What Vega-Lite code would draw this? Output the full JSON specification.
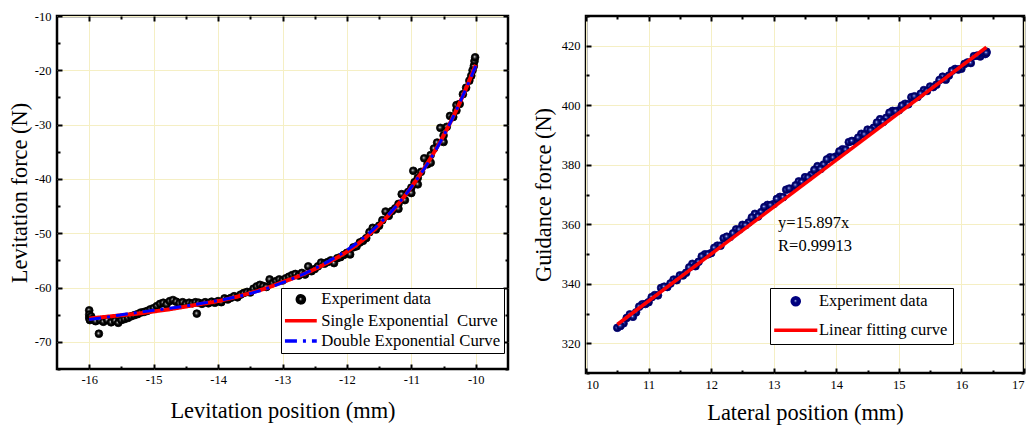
{
  "$schema": "https://vega.github.io/schema/vega-lite/v6.json",
  "background": "white",
  "padding": {"left": 7, "top": 8, "right": 4, "bottom": 4},
  "config": {
    "font": "Liberation Serif",
    "view": {"stroke": "black", "strokeWidth": 2.5},
    "axis": {"labelFont": "Liberation Serif", "titleFont": "Liberation Serif", "labelColor": "black", "titleColor": "black", "titleFontWeight": "normal", "domain": false, "tickColor": "black", "tickWidth": 2}
  },
  "spacing": 78,
  "bounds": "flush",
  "resolve": {"scale": {"stroke": "independent", "shape": "independent", "strokeDash": "independent"}, "legend": {"stroke": "independent", "shape": "independent", "strokeDash": "independent"}},
  "datasets": {
    "lev_exp": [
      {"x":-16.0,"y":-64.2},{"x":-16.0,"y":-65.0},{"x":-16.0,"y":-65.6},{"x":-15.99,"y":-66.0},{"x":-15.97,"y":-65.3},{"x":-15.95,"y":-65.8},{"x":-15.9,"y":-66.2},{"x":-15.85,"y":-68.5},{"x":-15.83,"y":-66.0},{"x":-15.78,"y":-66.3},{"x":-15.72,"y":-66.0},{"x":-15.66,"y":-66.4},{"x":-15.6,"y":-66.1},{"x":-15.55,"y":-66.5},{"x":-15.5,"y":-66.0},{"x":-15.45,"y":-65.8},{"x":-15.4,"y":-65.6},{"x":-15.35,"y":-65.3},{"x":-15.3,"y":-65.1},{"x":-15.25,"y":-64.9},{"x":-15.2,"y":-64.6},{"x":-15.15,"y":-64.5},{"x":-15.1,"y":-64.3},{"x":-15.05,"y":-64.0},{"x":-15.0,"y":-63.8},{"x":-14.95,"y":-63.4},{"x":-14.9,"y":-63.0},{"x":-14.85,"y":-62.8},{"x":-14.8,"y":-63.1},{"x":-14.75,"y":-62.5},{"x":-14.7,"y":-62.3},{"x":-14.65,"y":-62.6},{"x":-14.6,"y":-62.9},{"x":-14.55,"y":-62.7},{"x":-14.5,"y":-63.0},{"x":-14.45,"y":-62.8},{"x":-14.4,"y":-62.9},{"x":-14.35,"y":-62.7},{"x":-14.33,"y":-64.8},{"x":-14.3,"y":-62.8},{"x":-14.25,"y":-63.0},{"x":-14.2,"y":-62.7},{"x":-14.15,"y":-62.9},{"x":-14.1,"y":-62.6},{"x":-14.05,"y":-62.8},{"x":-14.0,"y":-62.5},{"x":-13.95,"y":-62.7},{"x":-13.9,"y":-62.0},{"x":-13.85,"y":-62.2},{"x":-13.8,"y":-61.9},{"x":-13.75,"y":-61.6},{"x":-13.7,"y":-61.8},{"x":-13.65,"y":-61.3},{"x":-13.6,"y":-61.0},{"x":-13.55,"y":-60.8},{"x":-13.5,"y":-60.9},{"x":-13.45,"y":-60.2},{"x":-13.4,"y":-59.8},{"x":-13.35,"y":-59.5},{"x":-13.3,"y":-59.7},{"x":-13.25,"y":-59.9},{"x":-13.2,"y":-58.5},{"x":-13.15,"y":-59.2},{"x":-13.1,"y":-58.8},{"x":-13.05,"y":-58.5},{"x":-13.0,"y":-58.7},{"x":-12.95,"y":-58.3},{"x":-12.9,"y":-58.0},{"x":-12.85,"y":-57.7},{"x":-12.8,"y":-57.5},{"x":-12.75,"y":-57.8},{"x":-12.7,"y":-57.3},{"x":-12.65,"y":-57.6},{"x":-12.6,"y":-56.1},{"x":-12.55,"y":-57.0},{"x":-12.5,"y":-56.6},{"x":-12.45,"y":-56.1},{"x":-12.4,"y":-55.4},{"x":-12.35,"y":-55.6},{"x":-12.3,"y":-55.3},{"x":-12.25,"y":-55.0},{"x":-12.2,"y":-55.5},{"x":-12.15,"y":-54.6},{"x":-12.1,"y":-54.4},{"x":-12.05,"y":-54.0},{"x":-12.0,"y":-53.6},{"x":-11.95,"y":-53.9},{"x":-11.9,"y":-52.6},{"x":-11.85,"y":-52.4},{"x":-11.8,"y":-51.7},{"x":-11.75,"y":-51.4},{"x":-11.7,"y":-50.9},{"x":-11.65,"y":-49.8},{"x":-11.6,"y":-49.0},{"x":-11.55,"y":-49.3},{"x":-11.5,"y":-48.6},{"x":-11.45,"y":-47.6},{"x":-11.4,"y":-46.0},{"x":-11.35,"y":-46.8},{"x":-11.3,"y":-45.9},{"x":-11.25,"y":-45.4},{"x":-11.2,"y":-44.6},{"x":-11.2,"y":-45.5},{"x":-11.15,"y":-42.8},{"x":-11.1,"y":-43.9},{"x":-11.05,"y":-42.4},{"x":-11.0,"y":-41.6},{"x":-11.0,"y":-42.6},{"x":-10.97,"y":-38.5},{"x":-10.95,"y":-40.6},{"x":-10.9,"y":-39.8},{"x":-10.9,"y":-41.0},{"x":-10.85,"y":-38.7},{"x":-10.8,"y":-36.2},{"x":-10.75,"y":-37.3},{"x":-10.7,"y":-35.6},{"x":-10.7,"y":-37.0},{"x":-10.65,"y":-34.4},{"x":-10.6,"y":-33.3},{"x":-10.55,"y":-30.6},{"x":-10.5,"y":-32.0},{"x":-10.5,"y":-33.2},{"x":-10.45,"y":-30.4},{"x":-10.4,"y":-28.4},{"x":-10.35,"y":-28.6},{"x":-10.3,"y":-26.4},{"x":-10.3,"y":-27.4},{"x":-10.25,"y":-26.2},{"x":-10.2,"y":-24.4},{"x":-10.15,"y":-23.2},{"x":-10.1,"y":-21.9},{"x":-10.07,"y":-21.0},{"x":-10.05,"y":-20.0},{"x":-10.03,"y":-19.2},{"x":-10.02,"y":-18.3},{"x":-10.01,"y":-17.6}
    ],
    "lev_single": [
      {"x":-16,"y":-65.7},{"x":-15.75,"y":-65.4},{"x":-15.5,"y":-65.1},{"x":-15.25,"y":-64.8},{"x":-15,"y":-64.4},{"x":-14.75,"y":-64.0},{"x":-14.5,"y":-63.5},{"x":-14.25,"y":-63.0},{"x":-14,"y":-62.5},{"x":-13.75,"y":-61.8},{"x":-13.5,"y":-61.0},{"x":-13.25,"y":-60.1},{"x":-13,"y":-59.0},{"x":-12.75,"y":-57.9},{"x":-12.5,"y":-56.6},{"x":-12.25,"y":-55.1},{"x":-12,"y":-53.4},{"x":-11.75,"y":-51.2},{"x":-11.5,"y":-48.5},{"x":-11.25,"y":-45.3},{"x":-11,"y":-41.5},{"x":-10.75,"y":-37.1},{"x":-10.5,"y":-32.0},{"x":-10.25,"y":-26.0},{"x":-10,"y":-19.0}
    ],
    "lev_double": [
      {"x":-16,"y":-65.9},{"x":-15.75,"y":-65.5},{"x":-15.5,"y":-65.0},{"x":-15.25,"y":-64.6},{"x":-15,"y":-64.2},{"x":-14.75,"y":-63.8},{"x":-14.5,"y":-63.4},{"x":-14.25,"y":-62.9},{"x":-14,"y":-62.4},{"x":-13.75,"y":-61.8},{"x":-13.5,"y":-61.1},{"x":-13.25,"y":-60.2},{"x":-13,"y":-59.1},{"x":-12.75,"y":-57.9},{"x":-12.5,"y":-56.5},{"x":-12.25,"y":-54.9},{"x":-12,"y":-53.1},{"x":-11.75,"y":-50.9},{"x":-11.5,"y":-48.3},{"x":-11.25,"y":-45.2},{"x":-11,"y":-41.5},{"x":-10.75,"y":-37.2},{"x":-10.5,"y":-32.1},{"x":-10.25,"y":-26.0},{"x":-10,"y":-19.2}
    ],
    "gui_exp": [
      {"x":10.5,"y":325.2},{"x":10.6,"y":326.7},{"x":10.7,"y":329.7},{"x":10.8,"y":330.4},{"x":10.9,"y":333.1},{"x":11.0,"y":333.8},{"x":11.1,"y":336.2},{"x":11.2,"y":338.6},{"x":11.3,"y":338.9},{"x":11.4,"y":341.4},{"x":11.5,"y":342.8},{"x":11.6,"y":343.7},{"x":11.7,"y":346.7},{"x":11.8,"y":347.4},{"x":11.9,"y":349.9},{"x":12.0,"y":350.3},{"x":12.1,"y":352.8},{"x":12.2,"y":355.3},{"x":12.3,"y":355.7},{"x":12.4,"y":358.3},{"x":12.5,"y":359.8},{"x":12.6,"y":360.6},{"x":12.7,"y":363.5},{"x":12.8,"y":364.1},{"x":12.9,"y":366.5},{"x":13.0,"y":366.8},{"x":13.1,"y":369.2},{"x":13.2,"y":371.6},{"x":13.3,"y":371.9},{"x":13.4,"y":374.4},{"x":13.5,"y":375.8},{"x":13.6,"y":376.6},{"x":13.7,"y":379.5},{"x":13.8,"y":380.1},{"x":13.9,"y":382.5},{"x":14.0,"y":382.8},{"x":14.1,"y":385.2},{"x":14.2,"y":387.6},{"x":14.3,"y":387.9},{"x":14.4,"y":390.4},{"x":14.5,"y":391.8},{"x":14.6,"y":392.5},{"x":14.7,"y":395.3},{"x":14.8,"y":395.8},{"x":14.9,"y":398.1},{"x":15.0,"y":398.3},{"x":15.1,"y":400.5},{"x":15.2,"y":402.7},{"x":15.3,"y":402.8},{"x":15.4,"y":405.1},{"x":15.5,"y":406.3},{"x":15.6,"y":406.9},{"x":15.7,"y":409.6},{"x":15.8,"y":410.0},{"x":15.9,"y":412.2},{"x":16.0,"y":412.3},{"x":16.1,"y":414.4},{"x":16.2,"y":416.5},{"x":16.3,"y":416.4},{"x":16.4,"y":418.0},
      {"x":10.55,"y":325.8},{"x":10.65,"y":328.5},{"x":10.75,"y":328.9},{"x":10.85,"y":332.3},{"x":10.95,"y":333.2},{"x":11.05,"y":335.5},{"x":11.15,"y":336.1},{"x":11.25,"y":339.0},{"x":11.35,"y":340.1},{"x":11.45,"y":341.2},{"x":11.55,"y":342.8},{"x":11.65,"y":345.5},{"x":11.75,"y":345.9},{"x":11.85,"y":349.2},{"x":11.95,"y":349.9},{"x":12.05,"y":352.1},{"x":12.15,"y":352.8},{"x":12.25,"y":355.8},{"x":12.35,"y":356.95},{"x":12.45,"y":358.2},{"x":12.55,"y":359.7},{"x":12.65,"y":362.3},{"x":12.75,"y":362.6},{"x":12.85,"y":365.8},{"x":12.95,"y":366.4},{"x":13.05,"y":368.5},{"x":13.15,"y":369.1},{"x":13.25,"y":372.0},{"x":13.35,"y":373.1},{"x":13.45,"y":374.2},{"x":13.55,"y":375.7},{"x":13.65,"y":378.3},{"x":13.75,"y":378.6},{"x":13.85,"y":381.8},{"x":13.95,"y":382.4},{"x":14.05,"y":384.5},{"x":14.15,"y":385.1},{"x":14.25,"y":388.0},{"x":14.35,"y":389.1},{"x":14.45,"y":390.2},{"x":14.55,"y":391.6},{"x":14.65,"y":394.2},{"x":14.75,"y":394.4},{"x":14.85,"y":397.5},{"x":14.95,"y":398.0},{"x":15.05,"y":399.9},{"x":15.15,"y":400.3},{"x":15.25,"y":403.0},{"x":15.35,"y":403.9},{"x":15.45,"y":404.8},{"x":15.55,"y":406.1},{"x":15.65,"y":408.5},{"x":15.75,"y":408.6},{"x":15.85,"y":411.6},{"x":15.95,"y":412.0},{"x":16.05,"y":413.9},{"x":16.15,"y":414.2},{"x":16.25,"y":416.7},{"x":16.35,"y":417.4},{"x":16.38,"y":417.2},{"x":16.4,"y":417.6}
    ],
    "gui_fit": [{"x":10.5,"y":326.3},{"x":16.4,"y":419.5}],
    "gui_text": [{"x":13.07,"y":360.3,"label":"y=15.897x"},{"x":13.07,"y":352.6,"label":"R=0.99913"}]
  },
  "hconcat": [
    {
      "width": 451,
      "height": 353,
      "resolve": {"axis": {"x": "independent", "y": "independent"}},
      "layer": [
        {
          "data": {"name": "lev_exp"},
          "mark": {"type": "point", "filled": true, "opacity": 1, "size": 60, "strokeWidth": 0.8,
            "fill": {"gradient": "radial", "x1": 0.42, "y1": 0.42, "r1": 0, "x2": 0.5, "y2": 0.5, "r2": 0.5,
              "stops": [{"offset": 0, "color": "#ffffff"}, {"offset": 0.12, "color": "#bbbbbb"}, {"offset": 0.35, "color": "#333333"}, {"offset": 0.65, "color": "#000000"}, {"offset": 1, "color": "#000000"}]}},
          "encoding": {
            "x": {"field": "x", "type": "quantitative", "scale": {"domain": [-16.5, -9.5], "nice": false, "zero": false},
              "axis": {"orient": "bottom", "values": [-16,-15.5,-15,-14.5,-14,-13.5,-13,-12.5,-12,-11.5,-11,-10.5,-10],
                "labelExpr": "datum.value % 1 === 0 ? '' + datum.value : ''", "labelFontSize": 12.5, "labelPadding": 9,
                "tickSize": {"condition": {"test": "datum.value % 1 === 0", "value": -5}, "value": -3},
                "grid": true, "gridColor": {"condition": {"test": "datum.value % 1 === 0", "value": "#f5efc4"}, "value": "transparent"}, "gridWidth": 1,
                "title": "Levitation position (mm)", "titleFontSize": 22.4, "titlePadding": 14}},
            "y": {"field": "y", "type": "quantitative", "scale": {"domain": [-75, -10], "nice": false, "zero": false},
              "axis": {"orient": "left", "values": [-75,-70,-65,-60,-55,-50,-45,-40,-35,-30,-25,-20,-15,-10],
                "labelExpr": "datum.value % 10 === 0 ? '' + datum.value : ''", "labelFontSize": 12.5, "labelPadding": 11,
                "tickSize": {"condition": {"test": "datum.value % 10 === 0", "value": -5}, "value": -3},
                "grid": true, "gridColor": {"condition": {"test": "datum.value % 10 === 0", "value": "#f5efc4"}, "value": "transparent"}, "gridWidth": 1,
                "title": "Levitation force (N)", "titleFontSize": 22.4, "titlePadding": 3}},
            "stroke": {"datum": "Experiment data", "type": "nominal",
              "scale": {"domain": ["Experiment data", "Single Exponential\u00a0 Curve", "Double Exponential Curve"], "range": ["#000000", "#ff0000", "#0000ff"]},
              "legend": {"title": null, "orient": "none", "legendX": 224, "legendY": 272, "strokeColor": "black", "fillColor": "white",
                "padding": 3, "labelFont": "Liberation Serif", "labelFontSize": 16.7, "labelColor": "black",
                "symbolSize": 50, "symbolStrokeWidth": 3.5, "symbolOffset": 8.5, "labelOffset": 12, "rowPadding": 2.3, "labelLimit": 300, "symbolOpacity": 1}},
            "shape": {"datum": "Experiment data", "type": "nominal",
              "scale": {"domain": ["Experiment data", "Single Exponential\u00a0 Curve", "Double Exponential Curve"], "range": ["circle", "M-4.5,0L4.5,0", "M-4.5,0L4.5,0"]}}
          }
        },
        {
          "data": {"name": "lev_single"},
          "mark": {"type": "line", "strokeWidth": 4, "interpolate": "monotone"},
          "encoding": {
            "x": {"field": "x", "type": "quantitative",
              "axis": {"orient": "top", "values": [-16,-15.5,-15,-14.5,-14,-13.5,-13,-12.5,-12,-11.5,-11,-10.5,-10], "labels": false, "grid": false, "title": null,
                "tickSize": {"condition": {"test": "datum.value % 1 === 0", "value": -5}, "value": -3}}},
            "y": {"field": "y", "type": "quantitative",
              "axis": {"orient": "right", "values": [-75,-70,-65,-60,-55,-50,-45,-40,-35,-30,-25,-20,-15,-10], "labels": false, "grid": false, "title": null,
                "tickSize": {"condition": {"test": "datum.value % 10 === 0", "value": -5}, "value": -3}}},
            "stroke": {"datum": "Single Exponential\u00a0 Curve", "type": "nominal"},
            "strokeDash": {"datum": "Single Exponential\u00a0 Curve", "type": "nominal",
              "scale": {"domain": ["Experiment data", "Single Exponential\u00a0 Curve", "Double Exponential Curve"], "range": [[1, 0], [1, 0], [12, 6, 3, 6]]}}
          }
        },
        {
          "data": {"name": "lev_double"},
          "mark": {"type": "line", "strokeWidth": 3, "interpolate": "monotone"},
          "encoding": {
            "x": {"field": "x", "type": "quantitative", "axis": null},
            "y": {"field": "y", "type": "quantitative", "axis": null},
            "stroke": {"datum": "Double Exponential Curve", "type": "nominal"},
            "strokeDash": {"datum": "Double Exponential Curve", "type": "nominal"}
          }
        }
      ]
    },
    {
      "width": 438,
      "height": 357,
      "resolve": {"axis": {"x": "independent", "y": "independent"}},
      "layer": [
        {
          "data": {"name": "gui_exp"},
          "mark": {"type": "point", "filled": true, "opacity": 1, "size": 60, "strokeWidth": 0.8,
            "fill": {"gradient": "radial", "x1": 0.42, "y1": 0.42, "r1": 0, "x2": 0.5, "y2": 0.5, "r2": 0.5,
              "stops": [{"offset": 0, "color": "#ffffff"}, {"offset": 0.12, "color": "#8090e0"}, {"offset": 0.35, "color": "#1a2496"}, {"offset": 0.7, "color": "#00005a"}, {"offset": 1, "color": "#000040"}]}},
          "encoding": {
            "x": {"field": "x", "type": "quantitative", "scale": {"domain": [10, 17], "nice": false, "zero": false},
              "axis": {"orient": "bottom", "values": [10,10.5,11,11.5,12,12.5,13,13.5,14,14.5,15,15.5,16,16.5,17],
                "labelExpr": "datum.value % 1 === 0 ? '' + datum.value : ''", "labelFontSize": 12.5, "labelPadding": 10,
                "tickSize": {"condition": {"test": "datum.value % 1 === 0", "value": -5}, "value": -3},
                "grid": true, "gridColor": {"condition": {"test": "datum.value % 1 === 0", "value": "#f5efc4"}, "value": "transparent"}, "gridWidth": 1,
                "title": "Lateral position (mm)", "titleFontSize": 22.4, "titlePadding": 11}},
            "y": {"field": "y", "type": "quantitative", "scale": {"domain": [310, 430], "nice": false, "zero": false},
              "axis": {"orient": "left", "values": [310,320,330,340,350,360,370,380,390,400,410,420,430],
                "labelExpr": "datum.value % 20 === 0 ? '' + datum.value : ''", "labelFontSize": 12.5, "labelPadding": 11,
                "tickSize": {"condition": {"test": "datum.value % 20 === 0", "value": -5}, "value": -3},
                "grid": true, "gridColor": {"condition": {"test": "datum.value % 20 === 0", "value": "#f5efc4"}, "value": "transparent"}, "gridWidth": 1,
                "title": "Guidance force (N)", "titleFontSize": 22.4, "titlePadding": 6}},
            "stroke": {"datum": "Experiment data", "type": "nominal",
              "scale": {"domain": ["Experiment data", "Linear fitting curve"], "range": ["#000080", "#ff0000"]},
              "legend": {"title": null, "orient": "none", "legendX": 184, "legendY": 272, "strokeColor": "black", "fillColor": "white",
                "padding": 5, "labelFont": "Liberation Serif", "labelFontSize": 16.5, "labelColor": "black",
                "symbolSize": 50, "symbolStrokeWidth": 3.5, "symbolOffset": 12.5, "labelOffset": 15, "rowPadding": 10, "labelLimit": 300, "symbolOpacity": 1}},
            "shape": {"datum": "Experiment data", "type": "nominal",
              "scale": {"domain": ["Experiment data", "Linear fitting curve"], "range": ["circle", "M-6.1,0L6.1,0"]}}
          }
        },
        {
          "data": {"name": "gui_fit"},
          "mark": {"type": "line", "strokeWidth": 3.5},
          "encoding": {
            "x": {"field": "x", "type": "quantitative",
              "axis": {"orient": "top", "values": [10,10.5,11,11.5,12,12.5,13,13.5,14,14.5,15,15.5,16,16.5,17], "labels": false, "grid": false, "title": null,
                "tickSize": {"condition": {"test": "datum.value % 1 === 0", "value": -5}, "value": -3}}},
            "y": {"field": "y", "type": "quantitative",
              "axis": {"orient": "right", "values": [310,320,330,340,350,360,370,380,390,400,410,420,430], "labels": false, "grid": false, "title": null,
                "tickSize": {"condition": {"test": "datum.value % 20 === 0", "value": -5}, "value": -3}}},
            "stroke": {"datum": "Linear fitting curve", "type": "nominal"}
          }
        },
        {
          "data": {"name": "gui_text"},
          "mark": {"type": "text", "align": "left", "baseline": "middle", "font": "Liberation Serif", "fontSize": 16.5, "color": "black"},
          "encoding": {
            "x": {"field": "x", "type": "quantitative", "axis": null},
            "y": {"field": "y", "type": "quantitative", "axis": null},
            "text": {"field": "label", "type": "nominal"}
          }
        }
      ]
    }
  ]
}
